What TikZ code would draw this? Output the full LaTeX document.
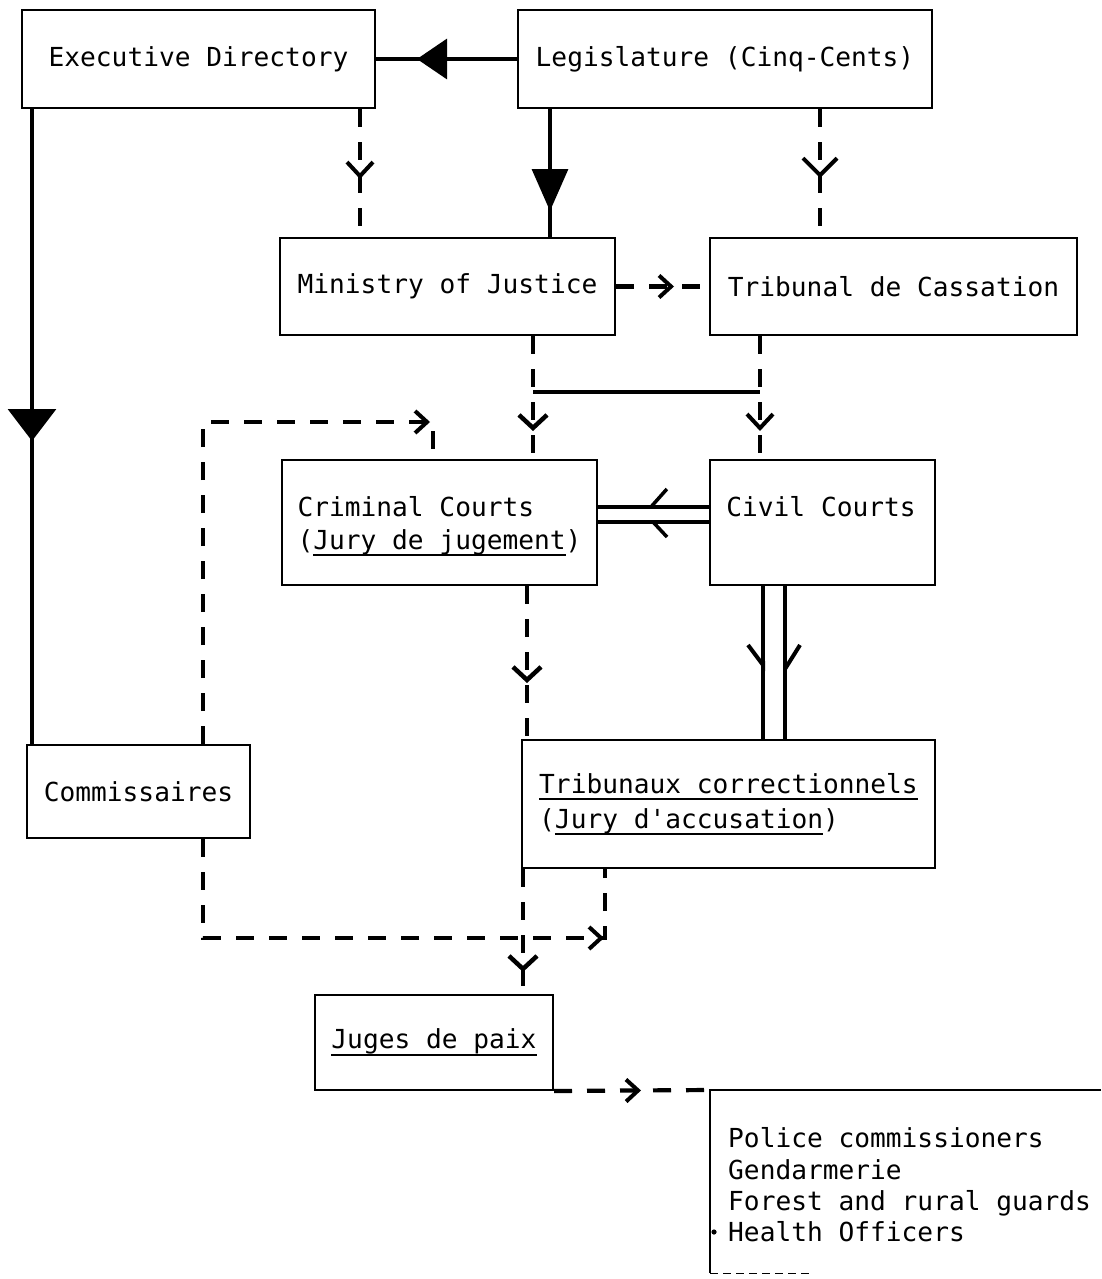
\documentclass[tikz,border=0pt]{standalone}
\usepackage{fontspec}
\setmonofont{DejaVu Sans Mono}
\usetikzlibrary{arrows.meta,decorations.markings}
\newcommand\fsz{\ttfamily\fontsize{26.2}{33}\selectfont}
\newsavebox\ulbox
\newcommand\ulx[1]{\sbox\ulbox{#1}\rlap{\rule[-7pt]{\wd\ulbox}{1.8pt}}\usebox\ulbox}
\tikzset{
  bigtriL/.tip={Triangle[length=30pt,width=40pt]},
  bigtriD/.tip={Triangle[length=42pt,width=36pt]},
  bigtriE/.tip={Triangle[length=32pt,width=48pt]},
  ybarb/.tip={Straight Barb[length=14pt,width=26pt,line width=4pt]},
  vbarb/.tip={Straight Barb[length=17pt,width=34pt,line width=4pt]},
  chev/.tip={Straight Barb[length=13pt,width=28pt,line width=4.5pt]},
  gtip/.tip={Straight Barb[length=12pt,width=22pt,line width=4pt]},
  harpU/.tip={Straight Barb[length=16pt,width=36pt,harpoon,swap,line width=3.5pt]},
  harpD/.tip={Straight Barb[length=14pt,width=30pt,harpoon,line width=3.5pt]},
  harpW/.tip={Straight Barb[length=20pt,width=30pt,harpoon,swap,line width=4pt]},
  harpE/.tip={Straight Barb[length=24pt,width=30pt,harpoon,line width=4pt]},
  tipmark/.style 2 args={postaction={decorate,decoration={markings,mark=at position #1 with {\arrow{#2}}}}},
  box/.style={draw, line width=2pt, inner sep=0pt, font=\fsz, align=left},
  txt/.style={inner sep=0pt, font=\fsz, align=left},
  solidc/.style={line width=3.2pt},
  dashc/.style={line width=4.2pt, dash pattern=on 18pt off 15pt},
}
\begin{document}
\begin{tikzpicture}[x=1pt,y=-1pt]
\useasboundingbox (0,0) rectangle (1101,1279);
% boxes
\node[box, minimum width=353pt, minimum height=98pt] (ed) at (198.5,59) {Executive Directory};
\node[box, minimum width=414pt, minimum height=98pt] (leg) at (725,59) {Legislature (Cinq-Cents)};
\node[box, minimum width=335pt, minimum height=97pt] (min) at (447.5,286.5) {Ministry of Justice};
\node[box, minimum width=367pt, minimum height=97pt] (trib) at (893.5,286.5) {Tribunal de Cassation};
\node[box, minimum width=315pt, minimum height=125pt, text depth=0pt] (crim) at (439.5,522.5) {Criminal Courts\\(\ulx{Jury de jugement})};
\node[box, minimum width=225pt, minimum height=125pt] (civ) at (822.5,522.5) {};
\node[txt] (civt) at (821,507) {Civil Courts};
\node[box, minimum width=223pt, minimum height=93pt] (com) at (138.5,791.5) {Commissaires};
\node[box, minimum width=413pt, minimum height=128pt, font=\ttfamily\fontsize{26.2}{35}\selectfont] (trc) at (728.5,804) {\ulx{Tribunaux correctionnels}\\(\ulx{Jury d'accusation})};
\node[box, minimum width=238pt, minimum height=95pt] (jp) at (434,1042.5) {\ulx{Juges de paix}};
\coordinate (ptl) at (710,1090);
\node[txt, anchor=west, font=\ttfamily\fontsize{26.2}{31.3}\selectfont] (pol) at (728,1185) {Police commissioners\\Gendarmerie\\Forest and rural guards\\Health Officers};
\draw[line width=2pt] (1101,1090) -- (ptl) -- (710,1273);
\draw[line width=1pt, dash pattern=on 8pt off 5pt] (710,1273) -- (812,1273);
\fill (714,1232) circle (2.6pt);
% connectors
\draw[solidc, tipmark={100pt}{bigtriL}] (leg.west) -- (ed.east);
\draw[dashc, tipmark={70pt}{ybarb}] (ed.south -| 360,0) -- (min.north -| 360,0);
\draw[solidc, tipmark={102pt}{bigtriD}] (leg.south -| 550,0) -- (min.north -| 550,0);
\draw[dashc, tipmark={69pt}{vbarb}] (leg.south -| 820,0) -- (trib.north -| 820,0);
\draw[dashc, tipmark={58pt}{gtip}] (min.east) -- (trib.west);
\coordinate (j1) at (533,392);
\coordinate (j2) at (760,392);
\draw[dashc, tipmark={95pt}{chev}] (min.south -| j1) -- (j1) -- (crim.north -| j1);
\draw[dashc, tipmark={95pt}{ybarb}] (trib.south -| j2) -- (j2) -- (civ.north -| j2);
\draw[solidc] (j1) -- (j2);
\draw[solidc, tipmark={62pt}{harpU}] (civ.west |- 0,507) -- (crim.east |- 0,507);
\draw[solidc, tipmark={60pt}{harpD}] (civ.west |- 0,522) -- (crim.east |- 0,522);
\draw[solidc, tipmark={85pt}{harpW}] (civ.south -| 763,0) -- (trc.north -| 763,0);
\draw[solidc, tipmark={90pt}{harpE}] (civ.south -| 785,0) -- (trc.north -| 785,0);
\draw[dashc, tipmark={97pt}{chev}] (crim.south -| 527,0) -- (trc.north -| 527,0);
\draw[solidc, tipmark={332pt}{bigtriE}] (ed.south -| 32,0) -- (com.north -| 32,0);
\draw[dashc, tipmark={549pt}{gtip}] (com.north -| 203,0) -- (203,422) -- (433,422) -- (crim.north -| 433,0);
\draw[dashc, tipmark={500pt}{gtip}] (com.south -| 203,0) -- (203,938) -- (605,938) -- (trc.south -| 605,0);
\draw[dashc, tipmark={103pt}{chev}] (trc.south -| 523,0) -- (jp.north -| 523,0);
\draw[dashc, tipmark={87pt}{gtip}] (jp.south east) -- (ptl);
\end{tikzpicture}
\end{document}
